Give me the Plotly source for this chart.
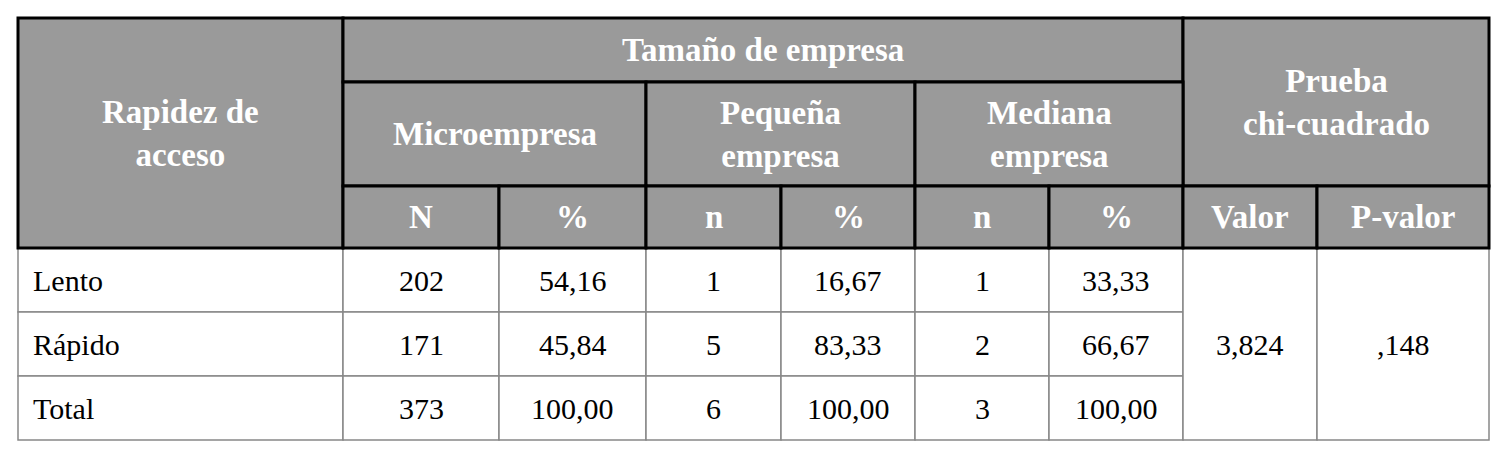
import plotly.graph_objects as go

# data
rows = ["Lento", "Rápido", "Total"]
micro_n = ["202", "171", "373"]
micro_pct = ["54,16", "45,84", "100,00"]
peq_n = ["1", "5", "6"]
peq_pct = ["16,67", "83,33", "100,00"]
med_n = ["1", "2", "3"]
med_pct = ["33,33", "66,67", "100,00"]
chi_valor = "3,824"
chi_p = ",148"

# grid (pixels)
xs = [18, 343, 499, 646, 781, 915, 1049, 1183, 1317, 1489]
hy = [18, 82, 186, 248]
by = [248, 312, 376, 440]

GRAY = "#9a9a9a"
FONT = "Liberation Serif"
OFF = 8  # page body margin compensation

fig = go.Figure()
shapes = []
ann = []


def cell(x0, x1, y0, y1, text, header, align="center"):
    if header:
        shapes.append(dict(type="rect", x0=x0, x1=x1, y0=y0, y1=y1,
                           fillcolor=GRAY, line=dict(color="black", width=3)))
    else:
        shapes.append(dict(type="rect", x0=x0, x1=x1, y0=y0, y1=y1,
                           fillcolor="white", line=dict(color="#888888", width=1.5)))
    if align == "left":
        ax, xanchor = x0 + 13, "left"
    else:
        ax, xanchor = (x0 + x1) / 2, "center"
    ann.append(dict(x=ax, y=(y0 + y1) / 2, text=text, showarrow=False,
                    xanchor=xanchor, yanchor="middle", align="center",
                    font=dict(family=FONT, size=33 if header else 30,
                              color="white" if header else "black",
                              weight="bold" if header else "normal")))


# body first so header borders draw on top
for i, r in enumerate(rows):
    y0, y1 = by[i], by[i + 1]
    cell(xs[0], xs[1], y0, y1, r, False, "left")
    vals = [micro_n[i], micro_pct[i], peq_n[i], peq_pct[i], med_n[i], med_pct[i]]
    for j, v in enumerate(vals):
        cell(xs[j + 1], xs[j + 2], y0, y1, v, False)
cell(xs[7], xs[8], by[0], by[3], chi_valor, False)
cell(xs[8], xs[9], by[0], by[3], chi_p, False)

# header
cell(xs[0], xs[1], hy[0], hy[3], "Rapidez de<br>acceso", True)
cell(xs[1], xs[7], hy[0], hy[1], "Tamaño de empresa", True)
cell(xs[7], xs[9], hy[0], hy[2], "Prueba<br>chi-cuadrado", True)
cell(xs[1], xs[3], hy[1], hy[2], "Microempresa", True)
cell(xs[3], xs[5], hy[1], hy[2], "Pequeña<br>empresa", True)
cell(xs[5], xs[7], hy[1], hy[2], "Mediana<br>empresa", True)
for j, t in enumerate(["N", "%", "n", "%", "n", "%", "Valor", "P-valor"]):
    cell(xs[j + 1], xs[j + 2], hy[2], hy[3], t, True)

fig.update_layout(
    width=1506, height=452, margin=dict(l=0, r=0, t=0, b=0),
    paper_bgcolor="white", plot_bgcolor="white",
    xaxis=dict(range=[OFF, 1506 + OFF], visible=False, fixedrange=True),
    yaxis=dict(range=[452 + OFF, OFF], visible=False, fixedrange=True),
    shapes=shapes, annotations=ann, showlegend=False,
)
fig.write_html("out.html")
